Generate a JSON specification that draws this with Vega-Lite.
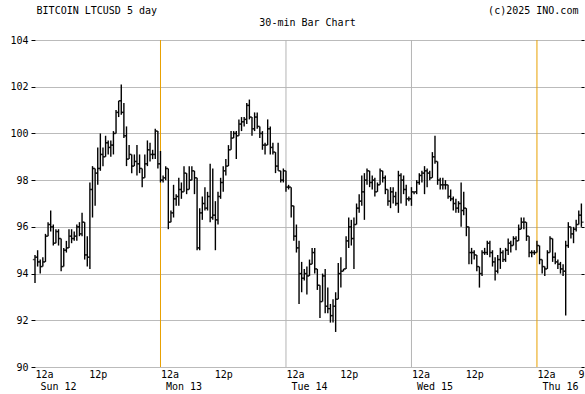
{
  "$schema": "https://vega.github.io/schema/vega-lite/v6.json",
  "width": 549,
  "height": 327,
  "autosize": {"type": "none"},
  "padding": {"left": 35, "top": 40, "right": 1, "bottom": 27},
  "background": "white",
  "title": {
    "text": "BITCOIN LTCUSD 5 day\u00a0\u00a0\u00a0\u00a0\u00a0\u00a0\u00a0\u00a0\u00a0\u00a0\u00a0\u00a0\u00a0\u00a0\u00a0\u00a0\u00a0\u00a0\u00a0\u00a0\u00a0\u00a0\u00a0\u00a0\u00a0\u00a0\u00a0\u00a0\u00a0\u00a0\u00a0\u00a0\u00a0\u00a0\u00a0\u00a0\u00a0\u00a0\u00a0\u00a0\u00a0\u00a0\u00a0\u00a0\u00a0\u00a0\u00a0\u00a0\u00a0\u00a0\u00a0\u00a0\u00a0\u00a0\u00a0(c)2025 INO.com",
    "subtitle": "30-min Bar Chart",
    "anchor": "middle",
    "frame": "group",
    "dx": -2,
    "font": "DejaVu Sans Mono",
    "fontSize": 10,
    "fontWeight": "normal",
    "color": "black",
    "subtitleFont": "DejaVu Sans Mono",
    "subtitleFontSize": 10,
    "subtitleColor": "black",
    "subtitlePadding": 2,
    "offset": 7
  },
  "config": {
    "view": {"stroke": null},
    "axis": {"labelFont": "DejaVu Sans Mono", "labelFontSize": 10, "labelColor": "black"}
  },
  "datasets": {
    "bars": [
      {"t":"2025-10-12T00:00","o":94.6,"h":94.8,"l":93.6,"c":94.7},
      {"t":"2025-10-12T00:30","o":94.7,"h":95.0,"l":94.3,"c":94.5},
      {"t":"2025-10-12T01:00","o":94.5,"h":94.6,"l":94.0,"c":94.3},
      {"t":"2025-10-12T01:30","o":94.3,"h":94.7,"l":94.3,"c":94.5},
      {"t":"2025-10-12T02:00","o":94.5,"h":95.7,"l":94.5,"c":95.6},
      {"t":"2025-10-12T02:30","o":95.6,"h":96.2,"l":95.6,"c":96.1},
      {"t":"2025-10-12T03:00","o":96.1,"h":96.7,"l":95.8,"c":96.0},
      {"t":"2025-10-12T03:30","o":96.0,"h":96.1,"l":95.2,"c":95.3},
      {"t":"2025-10-12T04:00","o":95.3,"h":95.9,"l":95.3,"c":95.8},
      {"t":"2025-10-12T04:30","o":95.8,"h":95.9,"l":95.2,"c":95.5},
      {"t":"2025-10-12T05:00","o":95.5,"h":95.5,"l":94.1,"c":94.3},
      {"t":"2025-10-12T05:30","o":94.3,"h":95.1,"l":94.3,"c":95.0},
      {"t":"2025-10-12T06:00","o":95.0,"h":95.4,"l":94.9,"c":95.1},
      {"t":"2025-10-12T06:30","o":95.1,"h":95.9,"l":95.1,"c":95.6},
      {"t":"2025-10-12T07:00","o":95.6,"h":95.9,"l":95.3,"c":95.5},
      {"t":"2025-10-12T07:30","o":95.5,"h":95.8,"l":95.4,"c":95.6},
      {"t":"2025-10-12T08:00","o":95.6,"h":96.1,"l":95.4,"c":96.0},
      {"t":"2025-10-12T08:30","o":96.0,"h":96.2,"l":95.6,"c":95.7},
      {"t":"2025-10-12T09:00","o":95.7,"h":96.6,"l":95.6,"c":96.2},
      {"t":"2025-10-12T09:30","o":96.2,"h":96.2,"l":94.6,"c":94.8},
      {"t":"2025-10-12T10:00","o":94.8,"h":95.6,"l":94.3,"c":94.7},
      {"t":"2025-10-12T10:30","o":94.7,"h":97.9,"l":94.2,"c":97.6},
      {"t":"2025-10-12T11:00","o":97.6,"h":98.6,"l":96.4,"c":98.5},
      {"t":"2025-10-12T11:30","o":98.5,"h":98.5,"l":96.9,"c":98.3},
      {"t":"2025-10-12T12:00","o":98.3,"h":99.4,"l":97.8,"c":98.5},
      {"t":"2025-10-12T12:30","o":98.5,"h":100.0,"l":98.4,"c":99.1},
      {"t":"2025-10-12T13:00","o":99.1,"h":99.4,"l":98.6,"c":99.0},
      {"t":"2025-10-12T13:30","o":99.0,"h":99.9,"l":99.0,"c":99.6},
      {"t":"2025-10-12T14:00","o":99.6,"h":99.7,"l":99.1,"c":99.4},
      {"t":"2025-10-12T14:30","o":99.4,"h":99.7,"l":99.0,"c":99.5},
      {"t":"2025-10-12T15:00","o":99.5,"h":100.1,"l":99.1,"c":100.0},
      {"t":"2025-10-12T15:30","o":100.0,"h":101.0,"l":100.0,"c":100.9},
      {"t":"2025-10-12T16:00","o":100.9,"h":101.4,"l":100.7,"c":101.4},
      {"t":"2025-10-12T16:30","o":101.4,"h":102.1,"l":100.8,"c":100.9},
      {"t":"2025-10-12T17:00","o":100.9,"h":101.3,"l":99.8,"c":99.9},
      {"t":"2025-10-12T17:30","o":99.9,"h":100.3,"l":98.6,"c":98.9},
      {"t":"2025-10-12T18:00","o":98.9,"h":99.5,"l":98.9,"c":99.1},
      {"t":"2025-10-12T18:30","o":99.1,"h":99.1,"l":98.3,"c":98.6},
      {"t":"2025-10-12T19:00","o":98.6,"h":99.1,"l":98.6,"c":98.8},
      {"t":"2025-10-12T19:30","o":98.8,"h":99.5,"l":98.2,"c":98.7},
      {"t":"2025-10-12T20:00","o":98.7,"h":99.1,"l":98.3,"c":98.5},
      {"t":"2025-10-12T20:30","o":98.5,"h":98.5,"l":97.7,"c":98.1},
      {"t":"2025-10-12T21:00","o":98.1,"h":99.1,"l":98.1,"c":98.7},
      {"t":"2025-10-12T21:30","o":98.7,"h":99.7,"l":98.6,"c":99.3},
      {"t":"2025-10-12T22:00","o":99.3,"h":99.6,"l":98.8,"c":99.1},
      {"t":"2025-10-12T22:30","o":99.1,"h":99.3,"l":98.9,"c":99.1},
      {"t":"2025-10-12T23:00","o":99.1,"h":100.2,"l":98.9,"c":100.1},
      {"t":"2025-10-12T23:30","o":100.1,"h":100.1,"l":98.5,"c":98.7},
      {"t":"2025-10-13T00:00","o":98.7,"h":99.25,"l":97.9,"c":98.0},
      {"t":"2025-10-13T00:30","o":98.0,"h":98.2,"l":97.9,"c":98.1},
      {"t":"2025-10-13T01:00","o":98.1,"h":98.6,"l":98.0,"c":98.5},
      {"t":"2025-10-13T01:30","o":98.5,"h":98.5,"l":95.9,"c":96.2},
      {"t":"2025-10-13T02:00","o":96.2,"h":96.7,"l":96.2,"c":96.6},
      {"t":"2025-10-13T02:30","o":96.6,"h":97.8,"l":96.4,"c":97.2},
      {"t":"2025-10-13T03:00","o":97.2,"h":97.4,"l":96.9,"c":97.3},
      {"t":"2025-10-13T03:30","o":97.3,"h":98.1,"l":96.9,"c":97.6},
      {"t":"2025-10-13T04:00","o":97.6,"h":97.9,"l":97.2,"c":97.5},
      {"t":"2025-10-13T04:30","o":97.5,"h":98.6,"l":97.5,"c":98.3},
      {"t":"2025-10-13T05:00","o":98.3,"h":98.3,"l":97.4,"c":97.6},
      {"t":"2025-10-13T05:30","o":97.6,"h":98.6,"l":97.6,"c":98.0},
      {"t":"2025-10-13T06:00","o":98.0,"h":98.6,"l":98.0,"c":98.4},
      {"t":"2025-10-13T06:30","o":98.4,"h":98.4,"l":97.4,"c":98.1},
      {"t":"2025-10-13T07:00","o":98.1,"h":98.1,"l":95.0,"c":95.1},
      {"t":"2025-10-13T07:30","o":95.1,"h":96.8,"l":95.0,"c":96.6},
      {"t":"2025-10-13T08:00","o":96.6,"h":97.3,"l":96.3,"c":97.0},
      {"t":"2025-10-13T08:30","o":97.0,"h":97.7,"l":96.7,"c":96.8},
      {"t":"2025-10-13T09:00","o":96.8,"h":97.5,"l":96.7,"c":97.3},
      {"t":"2025-10-13T09:30","o":97.3,"h":98.7,"l":96.2,"c":96.4},
      {"t":"2025-10-13T10:00","o":96.4,"h":98.5,"l":96.3,"c":96.5},
      {"t":"2025-10-13T10:30","o":96.5,"h":97.1,"l":95.0,"c":96.3},
      {"t":"2025-10-13T11:00","o":96.3,"h":97.5,"l":96.1,"c":97.3},
      {"t":"2025-10-13T11:30","o":97.3,"h":98.1,"l":97.2,"c":97.9},
      {"t":"2025-10-13T12:00","o":97.9,"h":98.6,"l":97.5,"c":98.4},
      {"t":"2025-10-13T12:30","o":98.4,"h":98.9,"l":98.2,"c":98.6},
      {"t":"2025-10-13T13:00","o":98.6,"h":99.5,"l":98.6,"c":99.3},
      {"t":"2025-10-13T13:30","o":99.3,"h":100.1,"l":99.3,"c":99.8},
      {"t":"2025-10-13T14:00","o":99.8,"h":100.1,"l":99.8,"c":100.0},
      {"t":"2025-10-13T14:30","o":100.0,"h":100.1,"l":98.9,"c":99.9},
      {"t":"2025-10-13T15:00","o":99.9,"h":100.6,"l":99.9,"c":100.4},
      {"t":"2025-10-13T15:30","o":100.4,"h":100.7,"l":100.1,"c":100.5},
      {"t":"2025-10-13T16:00","o":100.5,"h":100.7,"l":100.3,"c":100.6},
      {"t":"2025-10-13T16:30","o":100.6,"h":101.3,"l":100.4,"c":101.2},
      {"t":"2025-10-13T17:00","o":101.2,"h":101.45,"l":100.6,"c":100.7},
      {"t":"2025-10-13T17:30","o":100.7,"h":100.7,"l":99.9,"c":100.2},
      {"t":"2025-10-13T18:00","o":100.2,"h":100.9,"l":100.1,"c":100.7},
      {"t":"2025-10-13T18:30","o":100.7,"h":100.9,"l":100.2,"c":100.3},
      {"t":"2025-10-13T19:00","o":100.3,"h":100.3,"l":99.8,"c":100.0},
      {"t":"2025-10-13T19:30","o":100.0,"h":100.1,"l":99.3,"c":99.5},
      {"t":"2025-10-13T20:00","o":99.5,"h":99.6,"l":99.1,"c":99.5},
      {"t":"2025-10-13T20:30","o":99.5,"h":100.6,"l":99.5,"c":100.2},
      {"t":"2025-10-13T21:00","o":100.2,"h":100.3,"l":99.1,"c":99.4},
      {"t":"2025-10-13T21:30","o":99.4,"h":99.6,"l":99.1,"c":99.2},
      {"t":"2025-10-13T22:00","o":99.2,"h":99.2,"l":98.3,"c":98.6},
      {"t":"2025-10-13T22:30","o":98.6,"h":99.6,"l":98.4,"c":98.4},
      {"t":"2025-10-13T23:00","o":98.4,"h":98.4,"l":97.9,"c":98.0},
      {"t":"2025-10-13T23:30","o":98.0,"h":98.5,"l":97.9,"c":98.4},
      {"t":"2025-10-14T00:00","o":98.4,"h":98.4,"l":97.5,"c":97.7},
      {"t":"2025-10-14T00:30","o":97.7,"h":97.8,"l":97.6,"c":97.7},
      {"t":"2025-10-14T01:00","o":97.7,"h":97.7,"l":96.4,"c":96.9},
      {"t":"2025-10-14T01:30","o":96.9,"h":96.9,"l":95.4,"c":95.6},
      {"t":"2025-10-14T02:00","o":95.6,"h":96.1,"l":94.9,"c":95.1},
      {"t":"2025-10-14T02:30","o":95.1,"h":95.4,"l":92.7,"c":94.0},
      {"t":"2025-10-14T03:00","o":94.0,"h":94.5,"l":93.2,"c":93.8},
      {"t":"2025-10-14T03:30","o":93.8,"h":94.2,"l":93.7,"c":94.0},
      {"t":"2025-10-14T04:00","o":94.0,"h":94.3,"l":93.1,"c":93.9},
      {"t":"2025-10-14T04:30","o":93.9,"h":94.6,"l":93.9,"c":94.4},
      {"t":"2025-10-14T05:00","o":94.4,"h":95.1,"l":94.4,"c":94.9},
      {"t":"2025-10-14T05:30","o":94.9,"h":95.1,"l":94.0,"c":94.2},
      {"t":"2025-10-14T06:00","o":94.2,"h":94.2,"l":93.3,"c":93.5},
      {"t":"2025-10-14T06:30","o":93.5,"h":93.5,"l":92.1,"c":92.8},
      {"t":"2025-10-14T07:00","o":92.8,"h":94.0,"l":92.8,"c":93.9},
      {"t":"2025-10-14T07:30","o":93.9,"h":94.2,"l":92.3,"c":92.6},
      {"t":"2025-10-14T08:00","o":92.6,"h":93.4,"l":92.3,"c":92.5},
      {"t":"2025-10-14T08:30","o":92.5,"h":92.7,"l":91.9,"c":92.2},
      {"t":"2025-10-14T09:00","o":92.2,"h":92.9,"l":91.9,"c":92.6},
      {"t":"2025-10-14T09:30","o":92.6,"h":93.2,"l":91.5,"c":92.9},
      {"t":"2025-10-14T10:00","o":92.9,"h":94.45,"l":92.9,"c":94.0},
      {"t":"2025-10-14T10:30","o":94.0,"h":94.7,"l":93.4,"c":94.1},
      {"t":"2025-10-14T11:00","o":94.1,"h":94.2,"l":94.1,"c":94.2},
      {"t":"2025-10-14T11:30","o":94.2,"h":95.6,"l":94.2,"c":95.4},
      {"t":"2025-10-14T12:00","o":95.4,"h":96.4,"l":95.1,"c":96.0},
      {"t":"2025-10-14T12:30","o":96.0,"h":96.3,"l":95.2,"c":95.5},
      {"t":"2025-10-14T13:00","o":95.5,"h":96.4,"l":94.2,"c":96.1},
      {"t":"2025-10-14T13:30","o":96.1,"h":97.0,"l":96.1,"c":96.8},
      {"t":"2025-10-14T14:00","o":96.8,"h":97.4,"l":96.6,"c":97.1},
      {"t":"2025-10-14T14:30","o":97.1,"h":98.2,"l":96.9,"c":97.5},
      {"t":"2025-10-14T15:00","o":97.5,"h":98.3,"l":96.3,"c":98.0},
      {"t":"2025-10-14T15:30","o":98.0,"h":98.5,"l":97.8,"c":98.4},
      {"t":"2025-10-14T16:00","o":98.4,"h":98.4,"l":97.7,"c":97.9},
      {"t":"2025-10-14T16:30","o":97.9,"h":98.2,"l":97.6,"c":98.0},
      {"t":"2025-10-14T17:00","o":98.0,"h":98.1,"l":97.3,"c":97.5},
      {"t":"2025-10-14T17:30","o":97.5,"h":97.9,"l":97.5,"c":97.8},
      {"t":"2025-10-14T18:00","o":97.8,"h":98.5,"l":97.8,"c":98.4},
      {"t":"2025-10-14T18:30","o":98.4,"h":98.4,"l":97.9,"c":98.1},
      {"t":"2025-10-14T19:00","o":98.1,"h":98.2,"l":97.4,"c":97.6},
      {"t":"2025-10-14T19:30","o":97.6,"h":97.6,"l":96.9,"c":97.1},
      {"t":"2025-10-14T20:00","o":97.1,"h":97.7,"l":96.8,"c":97.5},
      {"t":"2025-10-14T20:30","o":97.5,"h":97.7,"l":97.0,"c":97.3},
      {"t":"2025-10-14T21:00","o":97.3,"h":97.5,"l":96.9,"c":97.0},
      {"t":"2025-10-14T21:30","o":97.0,"h":98.4,"l":96.6,"c":98.2},
      {"t":"2025-10-14T22:00","o":98.2,"h":98.3,"l":97.0,"c":98.0},
      {"t":"2025-10-14T22:30","o":98.0,"h":98.2,"l":97.4,"c":97.6},
      {"t":"2025-10-14T23:00","o":97.6,"h":97.8,"l":96.9,"c":97.2},
      {"t":"2025-10-14T23:30","o":97.2,"h":97.3,"l":97.1,"c":97.2},
      {"t":"2025-10-15T00:00","o":97.2,"h":97.7,"l":96.9,"c":97.5},
      {"t":"2025-10-15T00:30","o":97.5,"h":97.5,"l":97.4,"c":97.5},
      {"t":"2025-10-15T01:00","o":97.5,"h":98.0,"l":97.4,"c":97.9},
      {"t":"2025-10-15T01:30","o":97.9,"h":98.3,"l":97.8,"c":98.2},
      {"t":"2025-10-15T02:00","o":98.2,"h":98.4,"l":97.9,"c":98.3},
      {"t":"2025-10-15T02:30","o":98.3,"h":98.6,"l":97.4,"c":98.4},
      {"t":"2025-10-15T03:00","o":98.4,"h":98.5,"l":97.7,"c":98.3},
      {"t":"2025-10-15T03:30","o":98.3,"h":98.4,"l":98.0,"c":98.1},
      {"t":"2025-10-15T04:00","o":98.1,"h":99.2,"l":98.1,"c":99.0},
      {"t":"2025-10-15T04:30","o":99.0,"h":99.9,"l":98.7,"c":98.8},
      {"t":"2025-10-15T05:00","o":98.8,"h":98.8,"l":97.8,"c":98.0},
      {"t":"2025-10-15T05:30","o":98.0,"h":98.1,"l":97.6,"c":97.8},
      {"t":"2025-10-15T06:00","o":97.8,"h":98.1,"l":97.6,"c":97.8},
      {"t":"2025-10-15T06:30","o":97.8,"h":98.0,"l":97.6,"c":97.8},
      {"t":"2025-10-15T07:00","o":97.8,"h":97.8,"l":97.2,"c":97.3},
      {"t":"2025-10-15T07:30","o":97.3,"h":97.6,"l":97.1,"c":97.2},
      {"t":"2025-10-15T08:00","o":97.2,"h":97.3,"l":96.7,"c":97.0},
      {"t":"2025-10-15T08:30","o":97.0,"h":97.2,"l":96.6,"c":96.8},
      {"t":"2025-10-15T09:00","o":96.8,"h":97.1,"l":96.6,"c":97.0},
      {"t":"2025-10-15T09:30","o":97.0,"h":97.9,"l":96.0,"c":96.7},
      {"t":"2025-10-15T10:00","o":96.7,"h":97.5,"l":96.5,"c":96.8},
      {"t":"2025-10-15T10:30","o":96.8,"h":96.8,"l":95.6,"c":96.0},
      {"t":"2025-10-15T11:00","o":96.0,"h":96.0,"l":94.4,"c":94.9},
      {"t":"2025-10-15T11:30","o":94.9,"h":95.1,"l":94.4,"c":94.9},
      {"t":"2025-10-15T12:00","o":94.9,"h":95.0,"l":94.6,"c":94.8},
      {"t":"2025-10-15T12:30","o":94.8,"h":94.8,"l":94.1,"c":94.3},
      {"t":"2025-10-15T13:00","o":94.3,"h":94.3,"l":93.4,"c":94.0},
      {"t":"2025-10-15T13:30","o":94.0,"h":95.0,"l":93.9,"c":94.9},
      {"t":"2025-10-15T14:00","o":94.9,"h":95.1,"l":94.8,"c":94.9},
      {"t":"2025-10-15T14:30","o":94.9,"h":95.4,"l":94.8,"c":95.3},
      {"t":"2025-10-15T15:00","o":95.3,"h":95.4,"l":94.7,"c":94.9},
      {"t":"2025-10-15T15:30","o":94.9,"h":95.0,"l":94.3,"c":94.5},
      {"t":"2025-10-15T16:00","o":94.5,"h":94.7,"l":93.7,"c":94.1},
      {"t":"2025-10-15T16:30","o":94.1,"h":94.8,"l":94.0,"c":94.6},
      {"t":"2025-10-15T17:00","o":94.6,"h":95.1,"l":94.2,"c":94.9},
      {"t":"2025-10-15T17:30","o":94.9,"h":95.0,"l":94.5,"c":94.6},
      {"t":"2025-10-15T18:00","o":94.6,"h":95.1,"l":94.5,"c":95.0},
      {"t":"2025-10-15T18:30","o":95.0,"h":95.5,"l":94.8,"c":95.3},
      {"t":"2025-10-15T19:00","o":95.3,"h":95.4,"l":94.9,"c":95.2},
      {"t":"2025-10-15T19:30","o":95.2,"h":95.6,"l":95.2,"c":95.5},
      {"t":"2025-10-15T20:00","o":95.5,"h":95.6,"l":95.0,"c":95.4},
      {"t":"2025-10-15T20:30","o":95.4,"h":96.1,"l":95.4,"c":95.9},
      {"t":"2025-10-15T21:00","o":95.9,"h":96.4,"l":95.9,"c":96.2},
      {"t":"2025-10-15T21:30","o":96.2,"h":96.4,"l":95.9,"c":96.2},
      {"t":"2025-10-15T22:00","o":96.2,"h":96.2,"l":95.4,"c":95.6},
      {"t":"2025-10-15T22:30","o":95.6,"h":95.6,"l":94.7,"c":94.9},
      {"t":"2025-10-15T23:00","o":94.9,"h":95.0,"l":94.7,"c":94.9},
      {"t":"2025-10-15T23:30","o":94.9,"h":95.0,"l":94.8,"c":94.9},
      {"t":"2025-10-16T00:00","o":94.9,"h":95.4,"l":94.9,"c":95.2},
      {"t":"2025-10-16T00:30","o":95.2,"h":95.2,"l":94.4,"c":94.6},
      {"t":"2025-10-16T01:00","o":94.6,"h":94.6,"l":94.0,"c":94.3},
      {"t":"2025-10-16T01:30","o":94.3,"h":94.3,"l":93.9,"c":94.2},
      {"t":"2025-10-16T02:00","o":94.2,"h":95.0,"l":94.2,"c":94.9},
      {"t":"2025-10-16T02:30","o":94.9,"h":95.6,"l":94.9,"c":95.5},
      {"t":"2025-10-16T03:00","o":95.5,"h":95.5,"l":94.5,"c":94.7},
      {"t":"2025-10-16T03:30","o":94.7,"h":94.9,"l":94.4,"c":94.5},
      {"t":"2025-10-16T04:00","o":94.5,"h":94.6,"l":94.2,"c":94.4},
      {"t":"2025-10-16T04:30","o":94.4,"h":94.5,"l":94.0,"c":94.2},
      {"t":"2025-10-16T05:00","o":94.2,"h":94.4,"l":93.9,"c":94.1},
      {"t":"2025-10-16T05:30","o":94.1,"h":95.4,"l":92.2,"c":95.2},
      {"t":"2025-10-16T06:00","o":95.2,"h":96.2,"l":95.1,"c":96.0},
      {"t":"2025-10-16T06:30","o":96.0,"h":96.0,"l":95.5,"c":95.7},
      {"t":"2025-10-16T07:00","o":95.7,"h":96.0,"l":95.3,"c":95.9},
      {"t":"2025-10-16T07:30","o":95.9,"h":96.3,"l":95.8,"c":96.1},
      {"t":"2025-10-16T08:00","o":96.1,"h":96.7,"l":96.1,"c":96.5},
      {"t":"2025-10-16T08:30","o":96.5,"h":97.0,"l":96.0,"c":96.2}
    ]
  },
  "layer": [
    {
      "data": {"values": [{"d": "2025-10-14T00:00"}, {"d": "2025-10-15T00:00"}]},
      "mark": {"type": "rule", "color": "#b4b4b4", "strokeWidth": 1},
      "encoding": {"x": {"field": "d", "type": "temporal", "axis": null}}
    },
    {
      "data": {"values": [{"d": "2025-10-13T00:00"}, {"d": "2025-10-16T00:00"}]},
      "mark": {"type": "rule", "color": "#e8a000", "strokeWidth": 1},
      "encoding": {"x": {"field": "d", "type": "temporal", "axis": null}}
    },
    {
      "data": {"name": "bars"},
      "mark": {"type": "rule", "color": "black", "strokeWidth": 1.4},
      "encoding": {
        "x": {
          "field": "t",
          "type": "temporal",
          "scale": {"domain": [
            {"year": 2025, "month": 10, "date": 12, "hours": 0},
            {"year": 2025, "month": 10, "date": 16, "hours": 9}
          ]},
          "axis": {
            "orient": "bottom",
            "values": [
              {"year": 2025, "month": 10, "date": 12, "hours": 0},
              {"year": 2025, "month": 10, "date": 13, "hours": 0},
              {"year": 2025, "month": 10, "date": 14, "hours": 0},
              {"year": 2025, "month": 10, "date": 15, "hours": 0},
              {"year": 2025, "month": 10, "date": 16, "hours": 0}
            ],
            "labelExpr": "'12a'",
            "labelAlign": "left",
            "labelBaseline": "top",
            "labelPadding": 2,
            "labelOverlap": false,
            "labelBound": false,
            "labelFlush": false,
            "ticks": false,
            "domain": false,
            "grid": false,
            "title": null
          }
        },
        "y": {
          "field": "l",
          "type": "quantitative",
          "scale": {"domain": [90, 104], "nice": false, "zero": false},
          "axis": {
            "values": [90, 92, 94, 96, 98, 100, 102, 104],
            "grid": true,
            "gridColor": "#bbbbbb",
            "gridWidth": 1,
            "domain": false,
            "ticks": true,
            "tickColor": "black",
            "tickSize": 4,
            "labelPadding": 3,
            "title": null
          }
        },
        "y2": {"field": "h"}
      }
    },
    {
      "data": {"name": "bars"},
      "mark": {"type": "tick", "orient": "horizontal", "color": "black", "size": 2, "thickness": 1.4, "xOffset": -1.2},
      "encoding": {
        "x": {
          "field": "t",
          "type": "temporal",
          "axis": {
            "orient": "bottom",
            "values": [
              {"year": 2025, "month": 10, "date": 12, "hours": 12},
              {"year": 2025, "month": 10, "date": 13, "hours": 12},
              {"year": 2025, "month": 10, "date": 14, "hours": 12},
              {"year": 2025, "month": 10, "date": 15, "hours": 12},
              {"year": 2025, "month": 10, "date": 16, "hours": 9}
            ],
            "labelExpr": "hours(datum.value) == 12 ? '12p' : '9a'",
            "labelAlign": "center",
            "labelBaseline": "top",
            "labelPadding": 2,
            "labelOverlap": false,
            "labelBound": false,
            "labelFlush": false,
            "ticks": false,
            "domain": false,
            "grid": false,
            "title": null
          }
        },
        "y": {
          "field": "o",
          "type": "quantitative",
          "axis": {
            "orient": "right",
            "values": [90, 92, 94, 96, 98, 100, 102, 104],
            "labels": false,
            "grid": false,
            "domain": false,
            "ticks": true,
            "tickColor": "black",
            "tickSize": 3,
            "offset": -3,
            "title": null
          }
        }
      }
    },
    {
      "data": {"name": "bars"},
      "mark": {"type": "tick", "orient": "horizontal", "color": "black", "size": 2, "thickness": 1.4, "xOffset": 1.2},
      "encoding": {
        "x": {
          "field": "t",
          "type": "temporal",
          "axis": {
            "orient": "bottom",
            "values": [
              {"year": 2025, "month": 10, "date": 12, "hours": 0},
              {"year": 2025, "month": 10, "date": 13, "hours": 0},
              {"year": 2025, "month": 10, "date": 14, "hours": 0},
              {"year": 2025, "month": 10, "date": 15, "hours": 0},
              {"year": 2025, "month": 10, "date": 16, "hours": 0}
            ],
            "labelExpr": "timeFormat(datum.value, '%a %d')",
            "labelAlign": "left",
            "labelBaseline": "top",
            "labelPadding": 14,
            "labelOffset": 5,
            "labelOverlap": false,
            "labelBound": false,
            "labelFlush": false,
            "ticks": false,
            "domain": false,
            "grid": false,
            "title": null
          }
        },
        "y": {"field": "c", "type": "quantitative", "axis": null}
      }
    }
  ],
  "resolve": {"axis": {"x": "independent", "y": "independent"}}
}
